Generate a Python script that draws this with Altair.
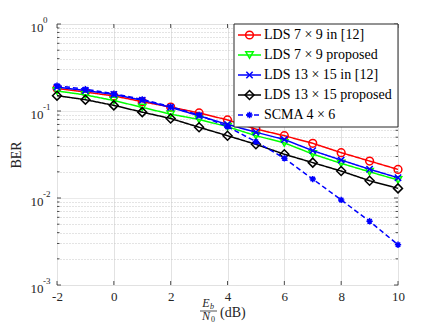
import altair as alt
import pandas as pd

snr = [-2, -1, 0, 1, 2, 3, 4, 5, 6, 7, 8, 9, 10]
lds79_ref = [0.182, 0.165, 0.149, 0.128, 0.111, 0.095, 0.079, 0.062, 0.052, 0.0425, 0.0332, 0.0266, 0.0213]
lds79_prop = [0.170, 0.153, 0.132, 0.110, 0.092, 0.080, 0.066, 0.052, 0.043, 0.032, 0.025, 0.020, 0.0161]
lds1315_ref = [0.188, 0.172, 0.155, 0.133, 0.110, 0.088, 0.070, 0.057, 0.047, 0.035, 0.0273, 0.0214, 0.0171]
lds1315_prop = [0.150, 0.135, 0.116, 0.097, 0.082, 0.065, 0.052, 0.0414, 0.0318, 0.0255, 0.0204, 0.0158, 0.0129]
scma46 = [0.195, 0.178, 0.158, 0.136, 0.112, 0.090, 0.066, 0.0444, 0.0286, 0.0165, 0.0095, 0.0054, 0.0029]

labels = ["LDS 7 × 9 in [12]", "LDS 7 × 9 proposed", "LDS 13 × 15 in [12]",
          "LDS 13 × 15 proposed", "SCMA 4 × 6"]
series_values = [lds79_ref, lds79_prop, lds1315_ref, lds1315_prop, scma46]

x_ticks = [-2, 0, 2, 4, 6, 8, 10]
y_ticks = [m * 10.0 ** e for e in (-3, -2, -1) for m in range(1, 10)] + [1.0]
decades = [1.0, 0.1, 0.01, 0.001]
exponents = ["0", "-1", "-2", "-3"]
minor_y = [v for v in y_ticks if v not in decades]

FONT = "Liberation Serif"
XPATH = "M-1,-1L1,1M-1,1L1,-1"
STAR = "M-1,0L1,0M0,-1L0,1M-0.7,-0.7L0.7,0.7M-0.7,0.7L0.7,-0.7"
AX = "#262626"

styles = [
    dict(color="#ff0000", shape="circle", size=60, filled=False, dash=[1, 0]),
    dict(color="#00ff00", shape="triangle-down", size=55, filled=False, dash=[1, 0]),
    dict(color="#0000ff", shape=XPATH, size=40, filled=False, dash=[1, 0]),
    dict(color="#000000", shape="diamond", size=80, filled=False, dash=[1, 0]),
    dict(color="#0000ff", shape=STAR, size=40, filled=False, dash=[5, 3]),
]

W, H = 341, 261

major_test = "abs(log(datum.value)/LN10 - round(log(datum.value)/LN10)) < 0.001"
y_label_expr = major_test + " ? '10' : ''"

xscale = alt.Scale(domain=[-2, 10], nice=False, zero=False)
yscale = alt.Scale(type="log", domain=[0.001, 1], nice=False)

xaxis = alt.Axis(values=x_ticks, title=None, grid=True, gridColor="#e2e2e2",
                 ticks=False, domain=False, labelFont=FONT, labelFontSize=13,
                 labelExpr="'' + datum.value",
                 labelColor=AX, labelPadding=5, labelFlush=False)
yaxis = alt.Axis(values=y_ticks, title="BER", grid=True, ticks=False, domain=False,
                 gridColor={"condition": {"test": major_test, "value": "#e2e2e2"}, "value": "#c8c8c8"},
                 gridDash={"condition": {"test": major_test, "value": [1, 0]}, "value": [1, 2]},
                 labelExpr=y_label_expr, labelFont=FONT, labelFontSize=13,
                 labelColor=AX, labelPadding=14, labelOffset=3, labelFlush=False,
                 titleFont=FONT, titleFontSize=14, titleFontWeight="normal",
                 titleColor=AX, titlePadding=7)

layers = []

# inward tick marks on all four sides (MATLAB box style)
xt_df = pd.DataFrame({"snr": x_ticks})
yM_df = pd.DataFrame({"ber": decades})
ym_df = pd.DataFrame({"ber": minor_y})
xenc = alt.X("snr:Q", scale=xscale, axis=xaxis)
yenc = lambda: alt.Y("ber:Q", scale=yscale, axis=yaxis)
layers.append(alt.Chart(xt_df).mark_rule(color=AX, strokeWidth=0.8).encode(
    x=xenc, y=alt.value(H), y2=alt.value(H - 4)))
layers.append(alt.Chart(xt_df).mark_rule(color=AX, strokeWidth=0.8).encode(
    x=xenc, y=alt.value(0), y2=alt.value(4)))
for dfx, ln in ((yM_df, 4), (ym_df, 2.5)):
    layers.append(alt.Chart(dfx).mark_rule(color=AX, strokeWidth=0.8).encode(
        y=yenc(), x=alt.value(0), x2=alt.value(ln)))
    layers.append(alt.Chart(dfx).mark_rule(color=AX, strokeWidth=0.8).encode(
        y=yenc(), x=alt.value(W), x2=alt.value(W - ln)))

for i, (lab, vals) in enumerate(zip(labels, series_values)):
    st = styles[i]
    df = pd.DataFrame({"snr": snr, "ber": vals, "series": lab})
    base = alt.Chart(df).encode(x=xenc, y=yenc())
    line = base.mark_line(color=st["color"], strokeWidth=1.5, strokeDash=st["dash"])
    pts = base.mark_point(shape=st["shape"], size=st["size"], filled=st["filled"],
                          color=st["color"], strokeWidth=1.5, opacity=1)
    layers += [line, pts]

# exponents of the y tick labels (superscripts)
exp_df = pd.DataFrame({"ber": decades, "exp": exponents})
exp_layer = alt.Chart(exp_df).mark_text(font=FONT, fontSize=9, align="left", baseline="middle",
                                        color=AX, dy=-4).encode(
    x=alt.value(-14), y=yenc(), text="exp:N")
layers.append(exp_layer)

main = alt.layer(*layers)

# legend (inside, top-right)
leg_scale = alt.Scale(type="point", domain=labels, range=[11, 91], padding=0)
leg_box = alt.Chart(pd.DataFrame({"a": [0]})).mark_rect(
    fill="white", stroke=AX, strokeWidth=1).encode(
    x=alt.value(177), x2=alt.value(W), y=alt.value(0), y2=alt.value(103))
leg_layers = [leg_box]
for i, lab in enumerate(labels):
    st = styles[i]
    d = pd.DataFrame({"label": [lab]})
    b = alt.Chart(d).encode(y=alt.Y("label:N", scale=leg_scale, axis=None))
    leg_layers.append(b.mark_rule(color=st["color"], strokeWidth=1.5, strokeDash=st["dash"]).encode(
        x=alt.value(181), x2=alt.value(204)))
    leg_layers.append(b.mark_point(shape=st["shape"], size=st["size"], filled=st["filled"],
                                   color=st["color"], strokeWidth=1.5, opacity=1).encode(x=alt.value(192.5)))
    leg_layers.append(b.mark_text(align="left", baseline="middle", font=FONT, fontSize=14,
                                  color="#000000").encode(x=alt.value(207), text="label:N"))
legend = alt.layer(*leg_layers)

# x-axis title: Eb/N0 (dB) as a fraction
t = pd.DataFrame({"a": [0]})
xt_E = alt.Chart(t).mark_text(font=FONT, fontSize=12, fontStyle="italic", align="center",
                              baseline="alphabetic", color=AX).encode(
    x=alt.value(149), y=alt.value(283), text=alt.value("E"))
xt_b = alt.Chart(t).mark_text(font=FONT, fontSize=8, fontStyle="italic", align="left",
                              baseline="alphabetic", color=AX).encode(
    x=alt.value(153), y=alt.value(285), text=alt.value("b"))
xt_line = alt.Chart(t).mark_rule(color=AX, strokeWidth=0.8).encode(
    x=alt.value(143), x2=alt.value(160), y=alt.value(287))
xt_N = alt.Chart(t).mark_text(font=FONT, fontSize=12, fontStyle="italic", align="center",
                              baseline="alphabetic", color=AX).encode(
    x=alt.value(149), y=alt.value(296), text=alt.value("N"))
xt_0 = alt.Chart(t).mark_text(font=FONT, fontSize=8, align="left",
                              baseline="alphabetic", color=AX).encode(
    x=alt.value(154), y=alt.value(297.5), text=alt.value("0"))
xt_dB = alt.Chart(t).mark_text(font=FONT, fontSize=14, align="left",
                               baseline="middle", color=AX).encode(
    x=alt.value(163), y=alt.value(289), text=alt.value("(dB)"))
xtitle = alt.layer(xt_E, xt_b, xt_line, xt_N, xt_0, xt_dB)

chart = alt.layer(main, legend, xtitle).resolve_scale(y="independent").properties(
    width=W, height=H,
    autosize=alt.AutoSizeParams(type="none"),
    padding={"left": 49, "top": 16, "right": 34, "bottom": 37},
).configure_view(stroke=AX, strokeWidth=1).configure(background="white")

chart.save("out.html", embed_options={"renderer": "svg", "actions": False})
